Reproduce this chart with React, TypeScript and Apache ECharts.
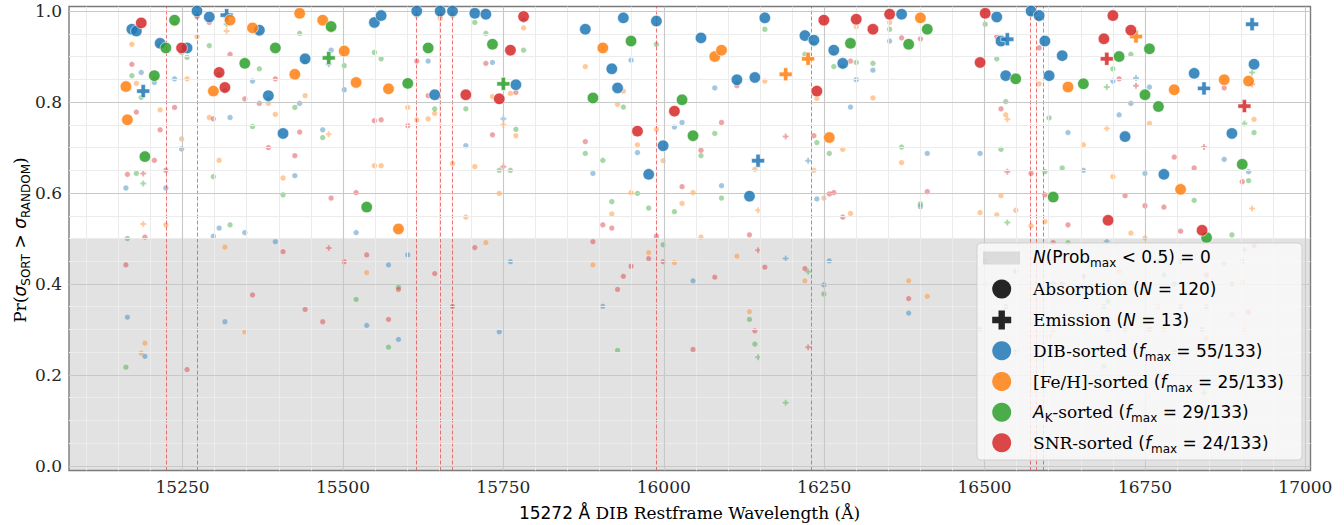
import React, { useEffect, useRef } from 'react';
import * as echarts from 'echarts';

// 133 DIB features: rest-frame wavelength (Å), emission flag, and probability per sorting
const wavelengths = [
  15161.7, 15164.0, 15171.0, 15178.0, 15185.6, 15188.7, 15191.3, 15206.0, 15215.0, 15224.0,
  15237.5, 15248.5, 15257.0, 15272.5, 15291.7, 15298.0, 15307.0, 15316.0, 15318.7, 15324.0,
  15347.0, 15359.0, 15369.7, 15383.7, 15394.6, 15406.6, 15425.0, 15432.5, 15441.0, 15468.4,
  15477.8, 15481.5, 15502.0, 15520.5, 15537.0, 15549.0, 15559.5, 15571.0, 15586.5, 15601.0,
  15615.0, 15632.8, 15643.0, 15651.5, 15670.7, 15691.5, 15705.5, 15722.7, 15733.0, 15743.6,
  15750.0, 15761.0, 15769.5, 15781.5, 15877.7, 15889.6, 15905.0, 15919.0, 15928.0, 15937.0,
  15949.0, 15959.0, 15976.5, 15988.5, 15999.0, 16016.6, 16028.5, 16045.6, 16058.0, 16079.5,
  16090.0, 16114.0, 16133.6, 16142.0, 16147.0, 16157.5, 16190.0, 16220.0, 16225.0, 16234.0,
  16238.6, 16249.5, 16258.0, 16265.0, 16279.0, 16291.0, 16300.0, 16326.0, 16352.0, 16370.7,
  16381.7, 16400.0, 16410.7, 16493.0, 16501.0, 16519.0, 16525.6, 16533.0, 16535.5, 16548.6,
  16572.5, 16585.0, 16594.0, 16600.6, 16607.0, 16621.0, 16630.0, 16654.0, 16686.0, 16690.5,
  16692.5, 16700.0, 16709.7, 16719.0, 16728.0, 16736.0, 16750.0, 16757.0, 16771.0, 16779.5,
  16795.6, 16805.5, 16826.7, 16839.0, 16842.0, 16846.0, 16873.5, 16885.5, 16901.6, 16905.0,
  16911.5, 16917.0, 16920.0,
];

const isEmission = [
  0, 0, 0, 0, 0, 1, 0, 0, 0, 0,
  0, 0, 0, 0, 0, 0, 0, 0, 1, 0,
  0, 0, 0, 0, 0, 0, 0, 0, 0, 0,
  1, 0, 0, 0, 0, 0, 0, 0, 0, 0,
  0, 0, 0, 0, 0, 0, 0, 0, 0, 0,
  1, 0, 0, 0, 0, 0, 0, 0, 0, 0,
  0, 0, 0, 0, 0, 0, 0, 0, 0, 0,
  0, 0, 0, 0, 1, 0, 1, 0, 1, 0,
  0, 0, 0, 0, 0, 0, 0, 0, 0, 0,
  0, 0, 0, 0, 0, 0, 0, 0, 1, 0,
  0, 0, 0, 0, 0, 0, 0, 0, 0, 1,
  0, 0, 0, 0, 0, 1, 0, 0, 0, 0,
  0, 0, 0, 0, 1, 0, 0, 0, 0, 1,
  0, 1, 0,
];

const pDIB = [
  0.611, 0.327, 0.960, 0.956, 0.865, 0.824, 0.241, 0.843, 0.929, 0.611,
  0.851, 0.697, 0.919, 1.000, 0.987, 0.505, 0.523, 0.317, 0.991, 0.766,
  0.513, 0.846, 0.958, 0.814, 0.493, 0.731, 0.638, 0.797, 0.895, 0.739,
  0.883, 0.914, 0.827, 0.513, 0.309, 0.975, 0.990, 0.442, 0.278, 0.464,
  1.000, 0.890, 0.816, 1.000, 1.000, 0.704, 0.995, 0.993, 0.887, 0.295,
  0.763, 0.449, 0.838, 0.980, 0.960, 0.643, 0.351, 0.873, 0.831, 0.985,
  0.892, 0.689, 0.641, 0.978, 0.704, 0.745, 0.755, 0.407, 0.941, 0.831,
  0.616, 0.849, 0.593, 0.854, 0.671, 0.985, 0.456, 0.946, 0.671, 0.936,
  0.587, 0.398, 0.451, 0.914, 0.885, 0.789, 0.849, 0.870, 0.934, 0.993,
  0.336, 0.570, 0.687, 0.687, 0.450, 0.987, 0.934, 0.858, 0.938, 0.250,
  1.000, 0.990, 0.934, 0.858, 0.400, 0.902, 0.733, 0.650, 0.350, 0.494,
  0.300, 0.846, 0.772, 0.724, 0.797, 0.853, 0.643, 0.833, 0.450, 0.641,
  0.400, 0.350, 0.863, 0.300, 0.830, 0.350, 0.674, 0.731, 0.450, 0.475,
  0.647, 0.971, 0.883,
];

const pFeH = [
  0.834, 0.761, 0.927, 0.841, 0.248, 0.532, 0.270, 0.850, 0.783, 0.530,
  0.972, 0.719, 0.851, 0.944, 0.766, 0.824, 0.672, 0.481, 0.956, 0.980,
  0.295, 0.963, 0.950, 0.797, 0.773, 0.633, 0.861, 0.995, 0.814, 0.980,
  0.729, 0.958, 0.912, 0.843, 0.425, 0.660, 0.660, 0.829, 0.521, 0.788,
  0.761, 0.763, 0.775, 0.984, 0.665, 0.547, 0.658, 0.491, 0.812, 0.599,
  0.750, 0.819, 0.726, 0.963, 0.878, 0.442, 0.919, 0.554, 0.795, 0.824,
  0.601, 0.706, 0.469, 0.740, 0.671, 0.447, 0.577, 0.601, 0.503, 0.900,
  0.914, 0.461, 0.339, 0.652, 0.562, 0.846, 0.861, 0.407, 0.895, 0.650,
  0.808, 0.589, 0.722, 0.906, 0.696, 0.555, 0.966, 0.809, 0.975, 0.667,
  0.407, 0.985, 0.373, 0.557, 0.400, 0.552, 0.594, 0.772, 0.762, 0.562,
  0.528, 0.840, 0.537, 0.285, 0.300, 0.450, 0.833, 0.706, 0.250, 0.742,
  0.450, 0.636, 0.427, 0.400, 0.512, 0.944, 0.501, 0.753, 0.350, 0.300,
  0.827, 0.608, 0.400, 0.450, 0.400, 0.280, 0.849, 0.333, 0.404, 0.300,
  0.846, 0.566, 0.762,
];

const pAK = [
  0.217, 0.500, 0.858, 0.643, 0.810, 0.621, 0.680, 0.858, 0.925, 0.919,
  0.980, 0.909, 0.898, 0.990, 0.924, 0.636, 0.860, 0.825, 0.971, 0.530,
  0.885, 0.746, 0.873, 0.806, 0.919, 0.596, 0.788, 0.951, 0.888, 0.722,
  0.897, 0.966, 0.880, 0.366, 0.569, 0.909, 0.895, 0.261, 0.393, 0.841,
  0.990, 0.919, 0.785, 0.992, 0.990, 0.785, 0.975, 0.951, 0.927, 0.650,
  0.840, 0.650, 0.740, 0.914, 0.687, 0.809, 0.672, 0.581, 0.254, 0.789,
  0.934, 0.599, 0.567, 0.927, 0.486, 0.559, 0.805, 0.726, 0.682, 0.731,
  0.589, 0.842, 0.322, 0.268, 0.239, 0.960, 0.139, 0.905, 0.427, 0.928,
  0.711, 0.378, 0.687, 0.878, 0.877, 0.929, 0.887, 0.885, 0.960, 0.701,
  0.927, 0.576, 0.960, 0.300, 0.971, 0.895, 0.696, 0.801, 0.535, 0.851,
  0.992, 0.982, 0.647, 0.765, 0.591, 0.655, 0.491, 0.840, 0.219, 0.833,
  0.362, 0.873, 0.900, 0.300, 0.905, 0.250, 0.816, 0.917, 0.790, 0.420,
  0.250, 0.450, 0.584, 0.250, 0.161, 0.502, 0.446, 0.508, 0.663, 0.753,
  0.627, 0.865, 0.733,
];

const pSNR = [
  0.442, 0.641, 0.883, 0.778, 0.974, 0.643, 0.503, 0.672, 0.739, 0.650,
  0.788, 0.919, 0.212, 0.988, 0.975, 0.763, 0.865, 0.832, 0.985, 0.905,
  0.807, 0.376, 0.797, 0.700, 0.851, 0.471, 0.682, 0.734, 0.344, 0.317,
  0.479, 0.589, 0.449, 0.601, 0.464, 0.759, 0.761, 0.322, 0.388, 0.748,
  0.890, 0.814, 0.423, 0.990, 0.351, 0.816, 0.480, 0.885, 0.728, 0.807,
  0.658, 0.914, 0.821, 0.988, 0.713, 0.493, 0.530, 0.523, 0.388, 0.417,
  0.439, 0.736, 0.456, 0.505, 0.449, 0.780, 0.614, 0.256, 0.694, 0.415,
  0.755, 0.836, 0.508, 0.297, 0.474, 0.437, 0.724, 0.434, 0.261, 0.726,
  0.824, 0.980, 0.598, 0.601, 0.547, 0.890, 0.982, 0.960, 0.993, 0.941,
  0.368, 0.939, 0.603, 0.887, 0.995, 0.944, 0.785, 0.350, 0.647, 0.428,
  0.643, 0.919, 0.596, 0.450, 0.491, 0.400, 0.530, 0.417, 0.939, 0.895,
  0.540, 0.990, 0.851, 0.594, 0.958, 0.836, 0.572, 0.300, 0.200, 0.569,
  0.679, 0.516, 0.655, 0.518, 0.701, 0.420, 0.831, 0.400, 0.625, 0.791,
  0.338, 0.839, 0.484,
];

// Known DIB wavelengths marked with red dashed lines
const dibLines = [15224.0, 15272.5, 15615.0, 15651.5, 15670.7, 15988.5, 16230.5, 16571.6, 16581.3, 16592.2];

// Tick values
const xMajorTicks = [15250, 15500, 15750, 16000, 16250, 16500, 16750, 17000];
const yMajorTicks = [0.0, 0.2, 0.4, 0.6, 0.8, 1.0];

const sortLabels = ['DIB-sorted', '[Fe/H]-sorted', 'A_K-sorted', 'SNR-sorted'];
const fMaxText = ['55/133', '25/133', '29/133', '24/133'];
const sortColors = ['#1f77b4', '#ff7f0e', '#2ca02c', '#d62728'];

const X_MIN = 15073;
const X_MAX = 17008;
const Y_MIN = -0.01;
const Y_MAX = 1.01;

const PLUS = 'path://M4,0H8V4H12V8H8V12H4V8H0V4H4Z';

function minorValues(lo: number, hi: number, step: number, majors: number[]) {
  const out: number[] = [];
  const n0 = Math.ceil(lo / step - 1e-9);
  const n1 = Math.floor(hi / step + 1e-9);
  for (let n = n0; n <= n1; n++) {
    const v = Math.round(n * step * 1e6) / 1e6;
    if (!majors.some((m) => Math.abs(m - v) < 1e-6)) out.push(v);
  }
  return out;
}

const xMinorTicks = minorValues(X_MIN, X_MAX, 50, xMajorTicks);
const yMinorTicks = minorValues(0, 1.0, 0.05, yMajorTicks);

function buildSeries() {
  const probs = [pDIB, pFeH, pAK, pSNR];
  const smallSeries: any[] = [];
  const bigSeries: any[] = [];
  for (let s = 0; s < 4; s++) {
    const big: any[] = [];
    const small: any[] = [];
    for (let i = 0; i < wavelengths.length; i++) {
      const vals = probs.map((p) => p[i]);
      let best = 0;
      for (let k = 1; k < 4; k++) if (vals[k] > vals[best]) best = k;
      const em = isEmission[i] === 1;
      if (best === s) {
        big.push({ value: [wavelengths[i], vals[s]], symbol: em ? PLUS : 'circle', symbolSize: em ? 13 : 11.5 });
      } else {
        small.push({ value: [wavelengths[i], vals[s]], symbol: em ? PLUS : 'circle', symbolSize: em ? 6 : 5.5 });
      }
    }
    smallSeries.push({
      name: sortLabels[s] + ' (others)',
      type: 'scatter',
      data: small,
      z: 3,
      silent: true,
      itemStyle: { color: sortColors[s], opacity: 0.42, borderColor: '#ffffff', borderWidth: 0.4 },
    });
    bigSeries.push({
      name: sortLabels[s],
      type: 'scatter',
      data: big,
      z: 5,
      silent: true,
      itemStyle: { color: sortColors[s], opacity: 0.85, borderColor: '#ffffff', borderWidth: 0.7 },
    });
  }
  return [...smallSeries, ...bigSeries];
}

const tickColor = '#333333';
const labelFont = 'DejaVu Serif';
const MAJOR_GRID = '#c8c8c8';
const MINOR_GRID = '#ececec';

function buildOption() {
  const series: any[] = buildSeries();

  // grid lines (minor then major)
  const gridLines: any[] = [];
  xMinorTicks.forEach((v) => gridLines.push({ xAxis: v, lineStyle: { color: MINOR_GRID, width: 1, type: 'solid' } }));
  yMinorTicks.forEach((v) => gridLines.push({ yAxis: v, lineStyle: { color: MINOR_GRID, width: 1, type: 'solid' } }));
  xMajorTicks.forEach((v) => gridLines.push({ xAxis: v, lineStyle: { color: MAJOR_GRID, width: 1.1, type: 'solid' } }));
  yMajorTicks.forEach((v) => gridLines.push({ yAxis: v, lineStyle: { color: MAJOR_GRID, width: 1.1, type: 'solid' } }));

  series.unshift({
    name: 'grid',
    type: 'scatter',
    data: [],
    z: 1,
    silent: true,
    markLine: {
      silent: true,
      symbol: ['none', 'none'],
      label: { show: false },
      emphasis: { disabled: true },
      data: gridLines,
    },
  });
  series.unshift({
    name: 'shade',
    type: 'scatter',
    data: [],
    z: 2,
    silent: true,
    markArea: {
      silent: true,
      itemStyle: { color: 'rgba(140,140,140,0.25)' },
      data: [[{ yAxis: Y_MIN }, { yAxis: 0.5 }]],
    },
    markLine: {
      silent: true,
      symbol: ['none', 'none'],
      label: { show: false },
      lineStyle: { color: 'rgba(235,70,70,0.75)', type: [4, 2], width: 1 },
      data: dibLines.map((x) => ({ xAxis: x })),
    },
  });

  const xAxisDef = (pos: string, ticks: number[], len: number, labels: boolean) => ({
    type: 'value',
    position: pos,
    min: X_MIN,
    max: X_MAX,
    axisLine: { show: false, onZero: false },
    axisTick: { show: true, inside: true, length: len, customValues: ticks, lineStyle: { color: tickColor, width: len > 3 ? 1 : 0.8 } },
    axisLabel: {
      show: labels,
      customValues: ticks,
      formatter: (v: number) => String(Math.round(v)),
      fontFamily: labelFont,
      fontSize: 17,
      color: '#262626',
      margin: 8,
    },
    splitLine: { show: false },
    minorSplitLine: { show: false },
  });
  const yAxisDef = (pos: string, ticks: number[], len: number, labels: boolean) => ({
    type: 'value',
    position: pos,
    min: Y_MIN,
    max: Y_MAX,
    axisLine: { show: false, onZero: false },
    axisTick: { show: true, inside: true, length: len, customValues: ticks, lineStyle: { color: tickColor, width: len > 3 ? 1 : 0.8 } },
    axisLabel: {
      show: labels,
      customValues: ticks,
      formatter: (v: number) => Math.abs(v).toFixed(1),
      fontFamily: labelFont,
      fontSize: 17,
      color: '#262626',
      margin: 7,
    },
    splitLine: { show: false },
    minorSplitLine: { show: false },
  });

  // Legend drawn as graphic elements
  const LX = 977;
  const LY = 243;
  const rowY = [257, 289, 320, 350.7, 381.5, 412.3, 442.7];
  const mx = 1001.7;
  const tx = 1033;
  const baseRich: any = {
    r: { fontFamily: 'DejaVu Serif', fontSize: 17, color: '#262626', lineHeight: 24, verticalAlign: 'middle' },
    t: { fontFamily: 'DejaVu Sans', fontSize: 17, color: '#262626', lineHeight: 24, verticalAlign: 'middle' },
    i: { fontFamily: 'DejaVu Sans', fontStyle: 'italic', fontSize: 17, color: '#262626', lineHeight: 24, verticalAlign: 'middle' },
    sub: { fontFamily: 'DejaVu Sans', fontSize: 12, color: '#262626', lineHeight: 24, verticalAlign: 'bottom' },
  };
  const legendTexts = [
    '{i|N}{t|(Prob}{sub|max}{t| < 0.5) = 0}',
    '{r|Absorption }{t|(}{i|N}{t| = 120)}',
    '{r|Emission }{t|(}{i|N}{t| = 13)}',
    `{r|DIB-sorted }{t|(}{i|f}{sub|max}{t| = ${fMaxText[0]})}`,
    `{r|[Fe/H]-sorted }{t|(}{i|f}{sub|max}{t| = ${fMaxText[1]})}`,
    `{i|A}{sub|K}{r|-sorted }{t|(}{i|f}{sub|max}{t| = ${fMaxText[2]})}`,
    `{r|SNR-sorted }{t|(}{i|f}{sub|max}{t| = ${fMaxText[3]})}`,
  ];
  const h = 9.5;
  const t = 3.2;
  const pc = rowY[2];
  const plusPts = [
    [mx - t, pc - h], [mx + t, pc - h], [mx + t, pc - t], [mx + h, pc - t], [mx + h, pc + t], [mx + t, pc + t],
    [mx + t, pc + h], [mx - t, pc + h], [mx - t, pc + t], [mx - h, pc + t], [mx - h, pc - t], [mx - t, pc - t],
  ];
  const graphic: any[] = [
    {
      type: 'rect', z: 100, silent: true,
      shape: { x: LX, y: LY, width: 325, height: 217, r: 4 },
      style: { fill: 'rgba(250,250,250,0.82)', stroke: 'rgba(205,205,205,0.9)', lineWidth: 1 },
    },
    {
      type: 'rect', z: 101, silent: true,
      shape: { x: 983, y: 251.5, width: 37, height: 13 },
      style: { fill: 'rgba(140,140,140,0.25)' },
    },
    { type: 'circle', z: 101, silent: true, shape: { cx: mx, cy: rowY[1], r: 9.5 }, style: { fill: 'rgba(0,0,0,0.85)' } },
    { type: 'polygon', z: 101, silent: true, shape: { points: plusPts }, style: { fill: 'rgba(0,0,0,0.85)' } },
  ];
  for (let s = 0; s < 4; s++) {
    graphic.push({
      type: 'circle', z: 101, silent: true,
      shape: { cx: mx, cy: rowY[3 + s], r: 9.5 },
      style: { fill: sortColors[s], opacity: 0.85 },
    });
  }
  legendTexts.forEach((txt, k) => {
    graphic.push({
      type: 'text', z: 102, silent: true,
      x: tx, y: rowY[k],
      style: { text: txt, rich: baseRich, align: 'left', verticalAlign: 'middle' },
    });
  });
  // axis titles
  graphic.push({
    type: 'text', z: 50, silent: true,
    x: 689.5, y: 513,
    style: {
      text: '{t|15272 Å }{r|DIB Restframe Wavelength (Å)}',
      rich: baseRich, align: 'center', verticalAlign: 'middle',
    },
  });
  graphic.push({
    type: 'text', z: 50, silent: true,
    x: 20, y: 240, rotation: Math.PI / 2,
    style: {
      text: '{r|Pr(}{i|σ}{sub|SORT}{t| > }{i|σ}{sub|RANDOM}{r|)}',
      rich: baseRich, align: 'center', verticalAlign: 'middle',
    },
  });

  return {
    animation: false,
    backgroundColor: '#ffffff',
    grid: {
      left: 69, right: 33.5, top: 6.5, bottom: 54.5,
      show: true, borderColor: '#7a7a7a', borderWidth: 1.4, backgroundColor: 'transparent',
    },
    xAxis: [
      xAxisDef('bottom', xMajorTicks, 5, true),
      xAxisDef('bottom', xMinorTicks, 2.5, false),
      xAxisDef('top', xMajorTicks, 5, false),
      xAxisDef('top', xMinorTicks, 2.5, false),
    ],
    yAxis: [
      yAxisDef('left', yMajorTicks, 5, true),
      yAxisDef('left', yMinorTicks, 2.5, false),
      yAxisDef('right', yMajorTicks, 5, false),
      yAxisDef('right', yMinorTicks, 2.5, false),
    ],
    series,
    graphic,
  };
}

export default function App() {
  const ref = useRef<HTMLDivElement>(null);
  useEffect(() => {
    if (!ref.current) return;
    const chart = echarts.init(ref.current, null, { renderer: 'svg' });
    chart.setOption(buildOption() as any);
    return () => chart.dispose();
  }, []);
  return <div ref={ref} style={{ position: 'fixed', left: 0, top: 0, width: 1344, height: 525 }} />;
}
